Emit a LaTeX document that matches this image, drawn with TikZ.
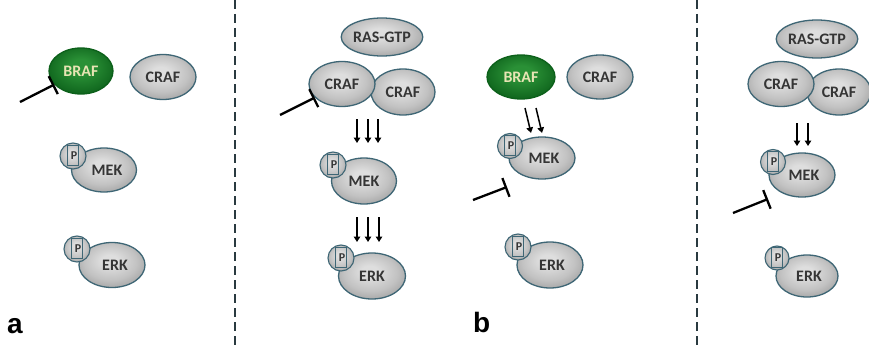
\documentclass[tikz,border=0pt]{standalone}
\usepackage{fontspec}
\setmainfont{Carlito}
\newfontfamily\panelfont{Liberation Sans}
\usetikzlibrary{shapes.geometric,arrows.meta}

\definecolor{edgeteal}{HTML}{3E6675}
\definecolor{protlight}{HTML}{DEDEDE}
\definecolor{protmid}{HTML}{C2C2C2}
\definecolor{protdark}{HTML}{9C9C9C}
\definecolor{brafin}{HTML}{2A9036}
\definecolor{brafout}{HTML}{0C601A}
\definecolor{braftext}{HTML}{E8E4B4}
\definecolor{prottext}{HTML}{353535}
\definecolor{sepcol}{HTML}{2A3A40}

\pgfdeclareradialshading{protshade}{\pgfpoint{-2bp}{6bp}}{%
  color(0bp)=(protlight); color(6bp)=(protlight); color(20bp)=(protmid); color(32bp)=(protdark); color(50bp)=(protdark)}
\pgfdeclareradialshading{brafshade}{\pgfpoint{0bp}{6bp}}{%
  color(0bp)=(brafin); color(8bp)=(brafin); color(30bp)=(brafout); color(50bp)=(brafout)}

\tikzset{
  prot/.style={ellipse, draw=edgeteal, line width=1.3pt, shading=protshade,
    inner sep=0pt, text=prottext, font=\bfseries\fontsize{16}{16}\selectfont,
    minimum width=66pt, minimum height=45pt},
  kinase/.style={prot, shading=brafshade, draw=brafout, text=braftext},
  phos/.style={circle, draw=edgeteal, line width=1.1pt, shading=protshade,
    minimum size=26pt, inner sep=0pt, text=prottext,
    font=\bfseries\fontsize{12}{12}\selectfont,
    path picture={\draw[edgeteal, line width=0.7pt]
      ([xshift=-6pt,yshift=-9pt]path picture bounding box.center) rectangle
      ([xshift=5pt,yshift=11pt]path picture bounding box.center);}},
  inhib/.style={line width=2.3pt, -{Bar[width=20pt,line width=2.3pt]}},
  act/.style={line width=1.5pt, -{Triangle[width=6.5pt,length=5.5pt]}},
  sepline/.style={sepcol, line width=1.8pt, dash pattern=on 9pt off 5pt},
  panellabel/.style={anchor=base west, inner sep=0pt,
    font=\panelfont\bfseries\fontsize{28}{28}\selectfont}
}

\begin{document}
\begin{tikzpicture}[x=1pt, y=-1pt]
  \fill[white] (0,0) rectangle (869,345);
  \useasboundingbox (0,0) rectangle (869,345);

  % separators between the four schemes
  \coordinate (sepAtop) at (235,0);   \coordinate (sepAbot) at (235,345);
  \coordinate (sepBtop) at (697,0);   \coordinate (sepBbot) at (697,345);
  \draw[sepline] (sepAtop) -- (sepAbot);
  \draw[sepline] (sepBtop) -- (sepBbot);

  % ---------- scheme 1: BRAF inhibited, CRAF idle ----------
  \node[kinase, minimum width=64pt, minimum height=46pt] (braf1) at (81,71) {BRAF};
  \node[prot] (craf1) at (163,77) {CRAF};
  \node[prot, minimum width=65pt, minimum height=44pt] (mek1) at (104,170) {\hspace*{6pt}MEK};
  \node[phos] (pmek1) at (73,156) {\hspace*{2pt}P};
  \node[prot] (erk1) at (112,265) {\hspace*{6pt}ERK};
  \node[phos] (perk1) at (77,249) {\hspace*{2pt}P};
  \coordinate (inh1) at (20,102);
  \draw[inhib] (inh1) -- (braf1);
  \node[panellabel] (lab-a) at (7,333) {a};

  % ---------- scheme 2: RAS-GTP driven CRAF dimers ----------
  \node[prot, minimum width=70pt, minimum height=38pt] (ras2) at (382,37) {RAS-GTP};
  \node[prot, minimum width=64pt, minimum height=46pt] (crafB2) at (403,92) {\raisebox{-3pt}{CRAF}};
  \node[prot] (crafA2) at (342,84) {CRAF};
  \coordinate (inh2) at (280,115);
  \draw[inhib] (inh2) -- (crafA2);
  \foreach \i/\x in {1/357,2/368,3/378}{
    \coordinate (a2s\i) at (\x,119); \coordinate (a2e\i) at (\x,143);
    \draw[act] (a2s\i) -- (a2e\i);
  }
  \node[prot, minimum width=65pt, minimum height=46pt] (mek2) at (364,181) {\raisebox{-2pt}{MEK}};
  \node[phos] (pmek2) at (333,165) {\hspace*{2pt}P};
  \foreach \i/\x in {1/357,2/368,3/379}{
    \coordinate (b2s\i) at (\x,217); \coordinate (b2e\i) at (\x,242);
    \draw[act] (b2s\i) -- (b2e\i);
  }
  \node[prot, minimum width=67pt, minimum height=46pt] (erk2) at (372,276) {ERK};
  \node[phos] (perk2) at (341,258) {\hspace*{2pt}P};

  % ---------- scheme 3: BRAF signalling, MEK inhibited ----------
  \node[kinase, minimum width=68pt, minimum height=44pt] (braf3) at (521,77) {BRAF};
  \node[prot, minimum height=44pt] (craf3) at (600,77) {CRAF};
  \coordinate (a3s1) at (525,108); \coordinate (a3e1) at (531,133);
  \coordinate (a3s2) at (536,108); \coordinate (a3e2) at (542,133);
  \draw[act] (a3s1) -- (a3e1);
  \draw[act] (a3s2) -- (a3e2);
  \node[prot, minimum height=42pt] (mek3) at (542,158) {\hspace*{4pt}MEK};
  \node[phos, minimum size=25pt] (pmek3) at (510,146) {\hspace*{2pt}P};
  \coordinate (inh3s) at (473,200); \coordinate (inh3e) at (507,187);
  \draw[inhib] (inh3s) -- (inh3e);
  \node[prot, minimum height=46pt] (erk3) at (550,265) {\hspace*{4pt}ERK};
  \node[phos] (perk3) at (518,247) {\hspace*{2pt}P};
  \node[panellabel] (lab-b) at (473,332) {b};

  % ---------- scheme 4: CRAF dimers, MEK inhibited ----------
  \node[prot, minimum width=70pt, minimum height=38pt] (ras4) at (817,39) {RAS-GTP};
  \node[prot, minimum width=64pt, minimum height=46pt] (crafB4) at (839,92) {\raisebox{-3pt}{CRAF}};
  \node[prot] (crafA4) at (781,84) {CRAF};
  \coordinate (a4s1) at (797,123); \coordinate (a4e1) at (797,146);
  \coordinate (a4s2) at (808,123); \coordinate (a4e2) at (808,146);
  \draw[act] (a4s1) -- (a4e1);
  \draw[act] (a4s2) -- (a4e2);
  \node[prot, minimum height=44pt] (mek4) at (802,175) {\raisebox{-2pt}{\hspace*{4pt}MEK}};
  \node[phos, minimum size=25pt] (pmek4) at (773,162) {\hspace*{2pt}P};
  \coordinate (inh4s) at (733,213); \coordinate (inh4e) at (768,199);
  \draw[inhib] (inh4s) -- (inh4e);
  \node[prot, minimum width=62pt, minimum height=42pt] (erk4) at (807,276) {\hspace*{4pt}ERK};
  \node[phos, minimum size=24pt] (perk4) at (777,258) {\hspace*{2pt}P};
\end{tikzpicture}
\end{document}
